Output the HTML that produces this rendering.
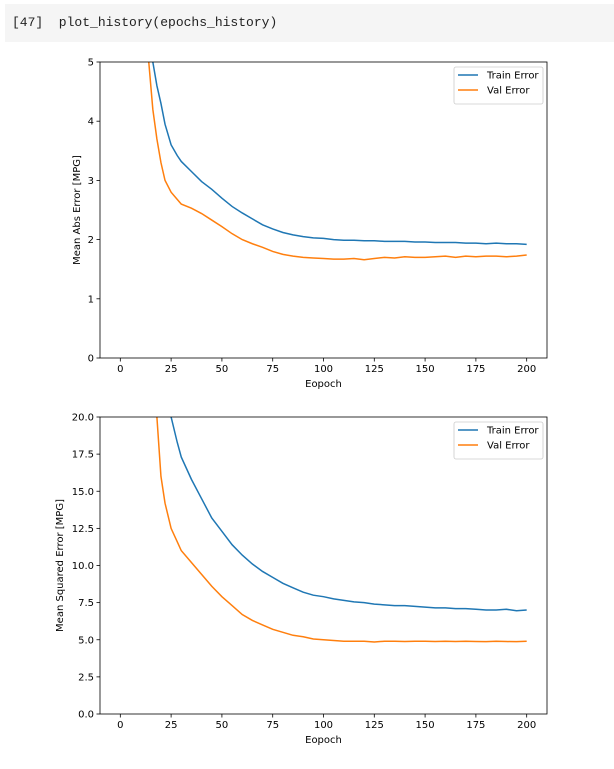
<!DOCTYPE html>
<html><head><meta charset="utf-8"><style>
body{margin:0;width:614px;height:769px;background:#fff;overflow:hidden;font-family:"Liberation Sans",sans-serif;}
#hdr{position:absolute;left:5px;top:4px;width:609px;height:38px;background:#f5f5f5;}
#hdr span{position:absolute;left:7px;top:11px;font:13px "Liberation Mono","DejaVu Sans Mono",monospace;color:#222;}
svg{position:absolute;left:0;top:0}
text{font-family:"DejaVu Sans","Liberation Sans",sans-serif;font-size:10px;fill:#000}
</style></head><body>
<div id="hdr"><span>[47]&nbsp; plot_history(epochs_history)</span></div>
<svg id="s" width="614" height="769"></svg>
<script>
const epochs=[10,14,16,18,20,22,25,28,30,35,40,45,50,55,60,65,70,75,80,85,90,95,100,105,110,115,120,125,130,135,140,145,150,155,160,165,170,175,180,185,190,195,200];
const maeTrain=[7,5.6,5,4.6,4.3,3.95,3.6,3.42,3.32,3.15,2.98,2.85,2.7,2.56,2.45,2.35,2.25,2.18,2.12,2.08,2.05,2.03,2.02,2.0,1.99,1.99,1.98,1.98,1.97,1.97,1.97,1.96,1.96,1.95,1.95,1.95,1.94,1.94,1.93,1.94,1.93,1.93,1.92];
const maeVal=[6,5,4.2,3.7,3.3,3.0,2.8,2.68,2.6,2.53,2.44,2.33,2.22,2.1,2.0,1.93,1.87,1.8,1.75,1.72,1.7,1.69,1.68,1.67,1.67,1.68,1.66,1.68,1.7,1.69,1.71,1.7,1.7,1.71,1.72,1.7,1.72,1.71,1.72,1.72,1.71,1.72,1.74];
const mseTrain=[40,33,30,27,25,23,20,18.3,17.3,15.8,14.5,13.2,12.3,11.4,10.7,10.1,9.6,9.2,8.8,8.5,8.2,8.0,7.9,7.75,7.65,7.55,7.5,7.4,7.35,7.3,7.3,7.25,7.2,7.15,7.15,7.1,7.1,7.05,7.0,7.0,7.05,6.95,7.0];
const mseVal=[40,30,24,20,16,14.2,12.5,11.6,11,10.2,9.4,8.6,7.9,7.3,6.7,6.3,6.0,5.7,5.5,5.3,5.2,5.05,5.0,4.95,4.9,4.9,4.9,4.85,4.9,4.9,4.88,4.9,4.9,4.88,4.9,4.88,4.9,4.88,4.87,4.9,4.88,4.87,4.9];
const xTicks=[0,25,50,75,100,125,150,175,200];
const y1Ticks=[0,1,2,3,4,5];
const y2Ticks=[0,2.5,5,7.5,10,12.5,15,17.5,20];
const NS="http://www.w3.org/2000/svg",svg=document.getElementById('s');
function el(t,a,p){const e=document.createElementNS(NS,t);for(const k in a)e.setAttribute(k,a[k]);(p||svg).appendChild(e);return e;}
const X0=100,X1=547,xmin=-10,xmax=210;
const xs=v=>X0+(v-xmin)/(xmax-xmin)*(X1-X0);
function chart(top,bot,ymax,yt,ylab,tr,va,id,fmt){
 const ys=v=>bot-(v/ymax)*(bot-top);
 const g=el('g',{});
 
 
 el('clipPath',{id:'c'+id},g);el('rect',{x:X0,y:top,width:X1-X0,height:bot-top},g.lastChild);
 const mk=(arr,c,n)=>{const p=el('polyline',{points:epochs.map((e,i)=>xs(e)+','+ys(arr[i])).join(' '),fill:'none',stroke:c,'stroke-width':1.5,'clip-path':'url(#c'+id+')'},g);
  };
 mk(tr,'#1f77b4','train-error-line');mk(va,'#ff7f0e','val-error-line');
 el('rect',{x:X0,y:top,width:X1-X0,height:bot-top,fill:'none',stroke:'#000','stroke-width':0.8},g);
 xTicks.forEach(t=>{el('line',{x1:xs(t),x2:xs(t),y1:bot,y2:bot+3.5,stroke:'#000','stroke-width':0.8},g);
  const tx=el('text',{x:xs(t),y:bot+14,'text-anchor':'middle'},g);tx.textContent=t;});
 yt.forEach(t=>{el('line',{x1:X0-3.5,x2:X0,y1:ys(t),y2:ys(t),stroke:'#000','stroke-width':0.8},g);
  const tx=el('text',{x:X0-6,y:ys(t)+3.5,'text-anchor':'end'},g);tx.textContent=fmt(t);});
 const xl=el('text',{x:(X0+X1)/2,y:bot+29,'text-anchor':'middle'},g);xl.textContent='Eopoch';
 
 const yx=id==='mae-chart'?80:63;
 const yl=el('text',{x:yx,y:(top+bot)/2,'text-anchor':'middle',transform:`rotate(-90 ${yx} ${(top+bot)/2})`},g);yl.textContent=ylab;
 
 const lg=el('g',{},g);
 el('rect',{x:454,y:top+5,width:89,height:37,rx:2,fill:'#fff',stroke:'#ccc','stroke-width':0.8},lg);
 [['Train Error','#1f77b4'],['Val Error','#ff7f0e']].forEach((d,i)=>{const yy=top+13+i*15;
  el('line',{x1:458,x2:478,y1:yy,y2:yy,stroke:d[1],'stroke-width':1.5},lg);
  const t=el('text',{x:487,y:yy+3.5},lg);t.textContent=d[0];});
}
chart(62,358,5,y1Ticks,'Mean Abs Error [MPG]',maeTrain,maeVal,'mae-chart',t=>t);
chart(417,714,20,y2Ticks,'Mean Squared Error [MPG]',mseTrain,mseVal,'mse-chart',t=>t.toFixed(1));
</script></body></html>
